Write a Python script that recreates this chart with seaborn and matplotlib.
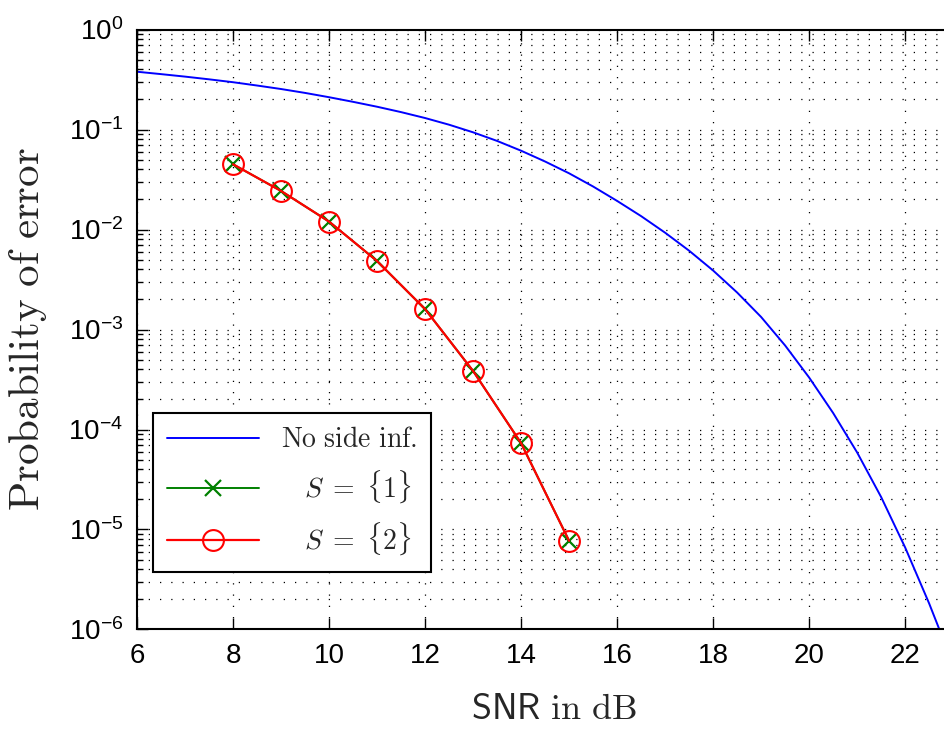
import numpy as np
import pandas as pd
import matplotlib
matplotlib.use('Agg')
import matplotlib.pyplot as plt
import seaborn as sns
from matplotlib.ticker import FixedLocator, NullFormatter

# values
snr_curve = [6.0, 6.5, 7.0, 7.5, 8.0, 8.5, 9.0, 9.5, 10.0, 10.5, 11.0, 11.5,
             12.0, 12.5, 13.0, 13.5, 14.0, 14.5, 15.0, 15.5, 16.0, 16.5, 17.0,
             17.5, 18.0, 18.5, 19.0, 19.5, 20.0, 20.5, 21.0, 21.5, 22.0, 22.5,
             23.0]
pe_no_side = [0.3784, 0.3581, 0.3381, 0.3177, 0.2972, 0.2754, 0.2541, 0.2323,
              0.2104, 0.1892, 0.1690, 0.1493, 0.1303, 0.1117, 0.09376,
              0.07691, 0.06138, 0.04786, 0.03648, 0.02692, 0.01932, 0.01361,
              0.00929, 0.00614, 0.00389, 0.002344, 0.001334, 6.92e-4, 3.31e-4,
              1.462e-4, 5.89e-5, 2.11e-5, 6.61e-6, 1.82e-6, 4.47e-7]

snr_pts = [8, 9, 10, 11, 12, 13, 14, 15]
pe_s1 = [0.0449, 0.0243, 0.0120, 0.00484, 0.00160, 3.85e-4, 7.3e-5, 7.7e-6]
pe_s2 = [0.0449, 0.0243, 0.0120, 0.00484, 0.00160, 3.85e-4, 7.3e-5, 7.7e-6]

labels = [r'$\mathrm{No\ side\ inf.}$', r'   $S\;=\;\{1\}$', r'   $S\;=\;\{2\}$']
x_ticks = [6, 8, 10, 12, 14, 16, 18, 20, 22]
y_ticks = [1e-6, 1e-5, 1e-4, 1e-3, 1e-2, 1e-1, 1e0]

sns.set_theme(style='ticks')
plt.rcParams['font.family'] = ['Liberation Sans', 'DejaVu Sans']
plt.rcParams['mathtext.fontset'] = 'cm'

fig = plt.figure(figsize=(9.45, 7.29), dpi=100)
ax = fig.add_axes([0.145, 0.1365, 0.855, 0.823])
ax.set_yscale('log')

sns.lineplot(x=snr_curve, y=pe_no_side, color='blue', lw=1.4, ax=ax, label=labels[0])
sns.lineplot(x=snr_pts, y=pe_s1, color=(0, 0.5, 0), lw=1.4, marker='x',
             markersize=11, markeredgewidth=1.6, markeredgecolor=(0, 0.5, 0),
             ax=ax, label=labels[1])
sns.lineplot(x=snr_pts, y=pe_s2, color='red', lw=1.6, marker='o',
             markersize=15, markerfacecolor='none', markeredgecolor='red',
             markeredgewidth=1.5, ax=ax, label=labels[2])

ax.set_xlim(6, 22.83)
ax.set_ylim(1e-6, 1)
ax.xaxis.set_major_locator(FixedLocator(x_ticks))
ax.yaxis.set_major_locator(FixedLocator(y_ticks))
minor = [m * d for d in y_ticks[:-1] for m in range(2, 10)]
ax.yaxis.set_minor_locator(FixedLocator(minor))
ax.yaxis.set_minor_formatter(NullFormatter())

# matlab style dotted grid
dots = (0, (1, 8))
ax.grid(True, which='major', axis='both', color='black', lw=0.9, linestyle=dots)
ax.grid(True, which='minor', axis='y', color='black', lw=0.9, linestyle=dots)

ax.tick_params(which='both', direction='in', top=True, right=False,
               color='black', width=1.0, labelsize=20, labelcolor='black')
ax.tick_params(which='major', length=8, pad=10)
ax.tick_params(which='minor', length=4)
for side in ['left', 'top', 'bottom']:
    ax.spines[side].set_color('black')
    ax.spines[side].set_linewidth(1.5)
ax.spines['right'].set_visible(False)

ax.set_xlabel(r'$\mathsf{SNR}\ \mathrm{in\ dB}$', fontsize=26, labelpad=16)
ax.xaxis.label.set_x(0.516)
ax.set_ylabel(r'$\mathrm{Probability\ of\ error}$', fontsize=31, labelpad=14)

leg = ax.legend(loc='lower left', bbox_to_anchor=(0.0198, 0.0958),
                borderaxespad=0, fontsize=20, handlelength=3.3,
                handletextpad=0.8, labelspacing=0.55, borderpad=0.5,
                fancybox=False, framealpha=1, edgecolor='black', numpoints=1)
leg.get_frame().set_linewidth(1.5)

fig.savefig('out.png', dpi=100)
